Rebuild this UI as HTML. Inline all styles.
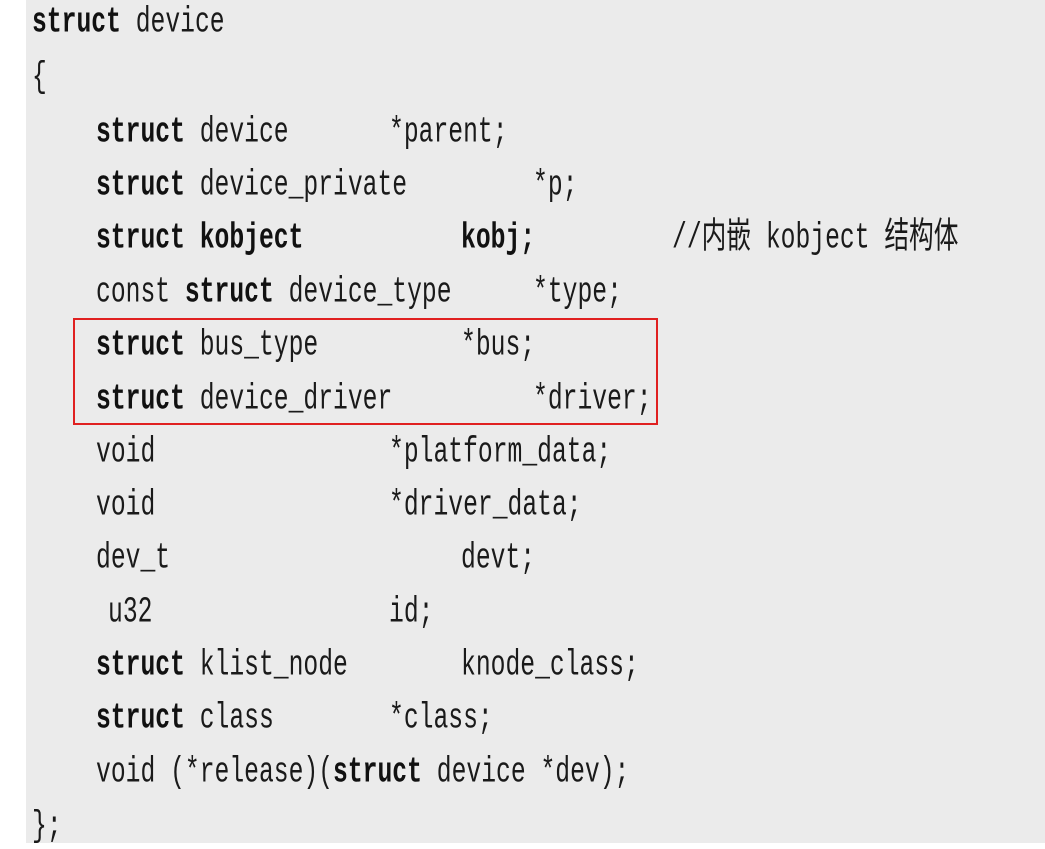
<!DOCTYPE html>
<html><head><meta charset="utf-8"><style>
html,body{margin:0;padding:0;}
body{width:1045px;height:847px;background:#fff;position:relative;overflow:hidden;}
.bg{position:absolute;left:26px;top:0;width:1019px;height:843px;background:#ebebeb;}
.t{position:absolute;height:30px;line-height:30px;font-family:"Liberation Mono","Noto Sans CJK SC",monospace;font-size:24.7px;color:#1a1a1a;white-space:pre;transform:scaleY(1.45);transform-origin:0 50%;}
b{font-weight:bold;color:#111;}
.box{position:absolute;left:73px;top:318px;width:581px;height:103px;border:2px solid #e02020;}
</style></head><body>
<div class="bg"></div>
<div class="box"></div>
<div class="t" style="left:32px;top:8px"><b>struct</b> device</div>
<div class="t" style="left:32px;top:63px">{</div>
<div class="t" style="left:96px;top:118px"><b>struct</b> device</div><div class="t" style="left:389px;top:118px">*parent;</div>
<div class="t" style="left:96px;top:171px"><b>struct</b> device_private</div><div class="t" style="left:533px;top:171px">*p;</div>
<div class="t" style="left:96px;top:224px"><b>struct kobject</b></div><div class="t" style="left:461px;top:224px"><b>kobj;</b></div><div class="t" style="left:672px;top:224px">//内嵌 kobject 结构体</div>
<div class="t" style="left:96px;top:278px">const <b>struct</b> device_type</div><div class="t" style="left:533px;top:278px">*type;</div>
<div class="t" style="left:96px;top:331px"><b>struct</b> bus_type</div><div class="t" style="left:461px;top:331px">*bus;</div>
<div class="t" style="left:96px;top:385px"><b>struct</b> device_driver</div><div class="t" style="left:533px;top:385px">*driver;</div>
<div class="t" style="left:96px;top:438px">void</div><div class="t" style="left:389px;top:438px">*platform_data;</div>
<div class="t" style="left:96px;top:491px">void</div><div class="t" style="left:389px;top:491px">*driver_data;</div>
<div class="t" style="left:96px;top:544px">dev_t</div><div class="t" style="left:461px;top:544px">devt;</div>
<div class="t" style="left:108px;top:598px">u32</div><div class="t" style="left:389px;top:598px">id;</div>
<div class="t" style="left:96px;top:651px"><b>struct</b> klist_node</div><div class="t" style="left:461px;top:651px">knode_class;</div>
<div class="t" style="left:96px;top:704px"><b>struct</b> class</div><div class="t" style="left:389px;top:704px">*class;</div>
<div class="t" style="left:96px;top:758px">void (*release)(<b>struct</b> device *dev);</div>
<div class="t" style="left:32px;top:812px">};</div>
</body></html>
